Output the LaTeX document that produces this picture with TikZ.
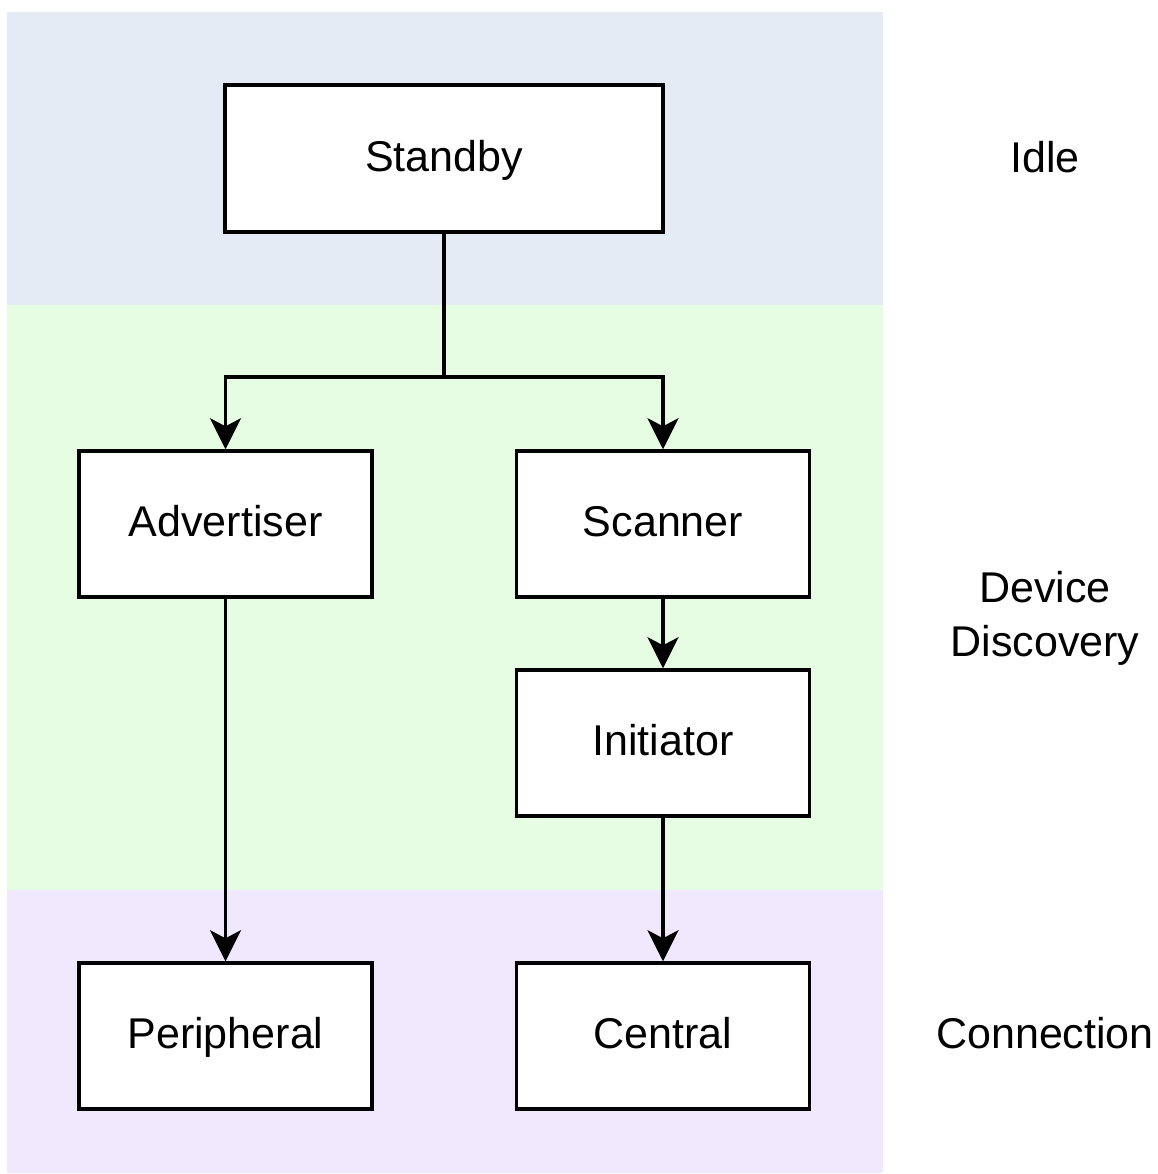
\documentclass[tikz,border=0pt]{standalone}
\usepackage{fontspec}
\setmainfont{Liberation Sans}
\usepackage{xcolor}
\usetikzlibrary{arrows.meta, positioning}

\definecolor{idlebg}{HTML}{E4EBF4}
\definecolor{discbg}{HTML}{E6FCE3}
\definecolor{connbg}{HTML}{F0E8FC}

\begin{document}
\begin{tikzpicture}[
  x=0.02cm, y=-0.02cm,
  font=\fontsize{24.5}{30.7}\selectfont,
  every node/.style={align=center},
  state/.style={draw, line width=2pt, fill=white, minimum height=2.92cm,
                minimum width=5.86cm, inner sep=0pt,
                text height=17.5pt, text depth=2.9pt},
  arr/.style={-{Stealth[length=0.62cm, width=0.62cm, inset=0.16cm]}, line width=2pt},
  layer/.style={inner sep=0pt}
]
\useasboundingbox (0,0) rectangle (1158,1174);
% phase bands
\fill[idlebg] (7,12) rectangle (883,305);
\fill[discbg] (7,305) rectangle (883,890);
\fill[connbg] (7,890) rectangle (883,1173);

\node[state, minimum width=8.76cm, minimum height=2.94cm] (stb) at (444,158.5) {Standby};
\node[state] (adv) at (225.5,524) {Advertiser};
\node[state] (scn) at (663,524) {Scanner};
\node[state] (ini) at (663,743) {Initiator};
\node[state] (per) at (225.5,1036) {Peripheral};
\node[state] (cen) at (663,1036) {Central};

\node[layer] (idle) at (1045,157) {Idle};
\node[layer] (disc) at (1045,618) {Device\\Discovery};
\node[layer] (conn) at (1045,1033) {Connection};

\coordinate (split) at (444,377);
\draw[line width=2pt] (stb.south) -- (split);
\draw[arr] (split) -| (adv.north);
\draw[arr] (split) -| (scn.north);
\draw[arr] (adv.south) -- (per.north);
\draw[arr] (scn.south) -- (ini.north);
\draw[arr] (ini.south) -- (cen.north);
\end{tikzpicture}
\end{document}
